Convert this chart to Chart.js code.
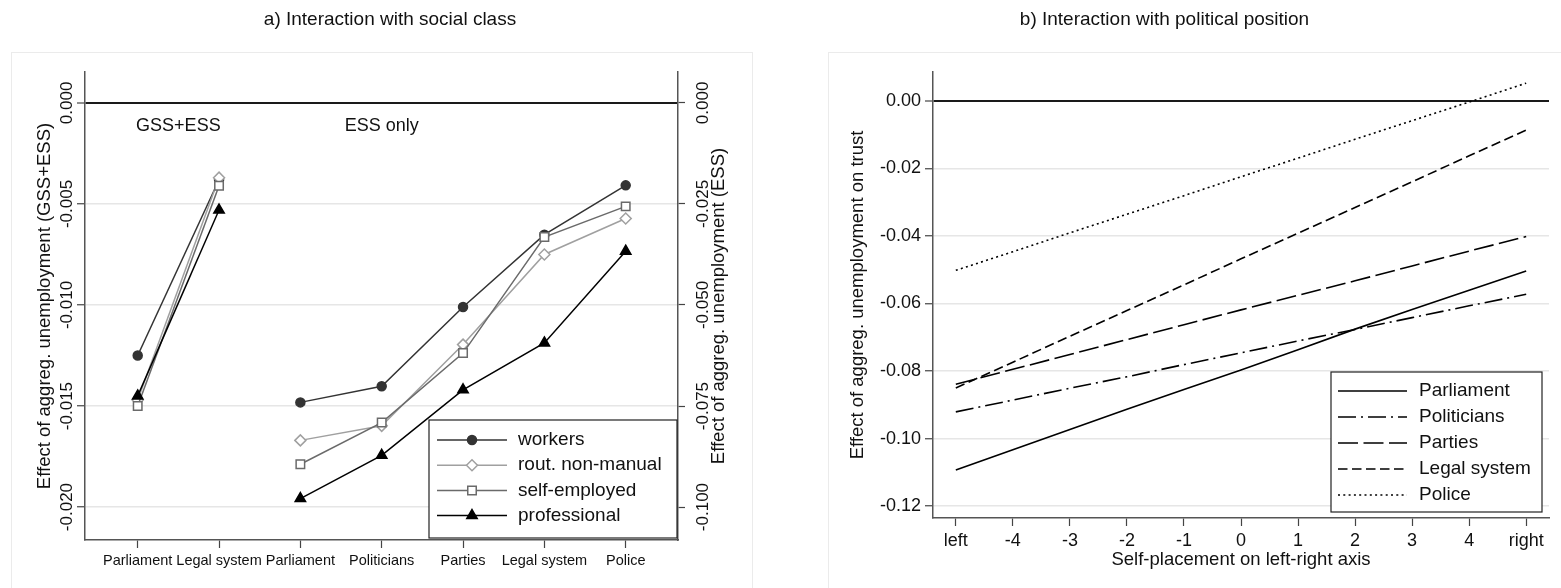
<!DOCTYPE html>
<html>
<head>
<meta charset="utf-8">
<title>Effect of aggregate unemployment on trust</title>
<script src="https://cdn.jsdelivr.net/npm/chart.js@4.4.1/dist/chart.umd.min.js"></script>
<style>
  html, body { margin: 0; padding: 0; background: #ffffff; }
  #page { position: relative; width: 1561px; height: 588px; overflow: hidden; }
  .frame { position: absolute; top: 52px; height: 600px; border: 1px solid #ebebeb; }
  #frameA { left: 11px; width: 740px; }
  #frameB { left: 828px; width: 800px; }
  canvas { position: absolute; top: 0; }
  #classChart { left: 0; }
  #positionChart { left: 780px; }
</style>
</head>
<body>
<div id="page">
  <div class="frame" id="frameA"></div>
  <div class="frame" id="frameB"></div>
  <canvas id="classChart" width="780" height="588"></canvas>
  <canvas id="positionChart" width="781" height="588"></canvas>
</div>
<script>
'use strict';

const fontFamily = "'Liberation Sans', Arial, Helvetica, sans-serif";
const ink = '#111111';

// ---- panel a: interaction with social class ----
const institutionsA = ['Parliament', 'Legal system', 'Parliament', 'Politicians', 'Parties', 'Legal system', 'Police'];
const gssPositions = [1, 2];
const essPositions = [3, 4, 5, 6, 7];
const classNames = ['workers', 'rout. non-manual', 'self-employed', 'professional'];

const gssWorkers = [-0.0125, -0.0038];
const gssRoutine = [-0.0147, -0.0037];
const gssSelfEmployed = [-0.0150, -0.0041];
const gssProfessional = [-0.0145, -0.0053];

const essWorkers = [-0.0741, -0.0701, -0.0505, -0.0326, -0.0204];
const essRoutine = [-0.0835, -0.0799, -0.0598, -0.0375, -0.0286];
const essSelfEmployed = [-0.0894, -0.0791, -0.0619, -0.0332, -0.0256];
const essProfessional = [-0.0979, -0.0872, -0.0710, -0.0594, -0.0367];

const gssTickValues = [-0.020, -0.015, -0.010, -0.005, 0];
const gssTickLabels = ['-0.020', '-0.015', '-0.010', '-0.005', '0.000'];
const essTickValues = [-0.100, -0.075, -0.050, -0.025, 0];
const essTickLabels = ['-0.100', '-0.075', '-0.050', '-0.025', '0.000'];

// ---- panel b: interaction with political position ----
const placement = [-5, -4, -3, -2, -1, 0, 1, 2, 3, 4, 5];
const placementLabels = ['left', '-4', '-3', '-2', '-1', '0', '1', '2', '3', '4', 'right'];
const institutionsB = ['Parliament', 'Politicians', 'Parties', 'Legal system', 'Police'];

const parliamentEffect = [-0.1093, -0.1033, -0.0973, -0.0913, -0.0855, -0.0797, -0.0737, -0.0676, -0.0618, -0.0561, -0.0504];
const politiciansEffect = [-0.0921, -0.0886, -0.0851, -0.0817, -0.0781, -0.0746, -0.0711, -0.0677, -0.0642, -0.0607, -0.0573];
const partiesEffect = [-0.0839, -0.0795, -0.0751, -0.0707, -0.0663, -0.0619, -0.0576, -0.0533, -0.0489, -0.0445, -0.0402];
const legalEffect = [-0.0850, -0.0774, -0.0697, -0.0621, -0.0545, -0.0468, -0.0392, -0.0316, -0.0240, -0.0163, -0.0087];
const policeEffect = [-0.0502, -0.0447, -0.0391, -0.0336, -0.0281, -0.0225, -0.0170, -0.0114, -0.0059, -0.0004, 0.0052];

const trustTickValues = [-0.12, -0.10, -0.08, -0.06, -0.04, -0.02, 0];
const trustTickLabels = ['-0.12', '-0.10', '-0.08', '-0.06', '-0.04', '-0.02', '0.00'];

// styles
const classStyles = [
    { color: '#333333', fill: '#333333', pointStyle: 'circle', radius: 4.5 },
    { color: '#a0a0a0', fill: '#ffffff', pointStyle: 'rectRot', radius: 5.5 },
    { color: '#6a6a6a', fill: '#ffffff', pointStyle: 'rect', radius: 6 },
    { color: '#000000', fill: '#000000', pointStyle: 'triangle', radius: 6 }
];
const lineDashes = [[], [18, 5, 2, 5], [20, 5.5], [9.5, 4.5], [2, 3.3]];

function pointsOf(xs, ys) {
    return xs.map((x, i) => ({ x: x, y: ys[i] }));
}

function fixedTicks(values) {
    return function (scale) {
        scale.ticks = values.map(v => ({ value: v }));
    };
}

function gridColor(ctx) {
    return ctx.tick && Math.abs(ctx.tick.value) < 1e-9 ? '#1a1a1a' : '#e6e6e6';
}
function gridWidth(ctx) {
    return ctx.tick && Math.abs(ctx.tick.value) < 1e-9 ? 2 : 1.5;
}

function drawUpText(ctx, text, x, y, size) {
    ctx.save();
    ctx.translate(x, y);
    ctx.rotate(-Math.PI / 2);
    ctx.font = size + 'px ' + fontFamily;
    ctx.fillStyle = ink;
    ctx.textAlign = 'center';
    ctx.textBaseline = 'alphabetic';
    ctx.fillText(text, 0, 0);
    ctx.restore();
}

function drawLegend(ctx, box, rows, layout) {
    ctx.save();
    ctx.fillStyle = '#ffffff';
    ctx.fillRect(box.left, box.top, box.right - box.left, box.bottom - box.top);
    ctx.strokeStyle = '#222222';
    ctx.lineWidth = 1.2;
    ctx.strokeRect(box.left, box.top, box.right - box.left, box.bottom - box.top);
    rows.forEach((row, i) => {
        const y = box.top + layout.rowTop + i * layout.rowGap;
        const x0 = box.left + layout.lineFrom;
        const x1 = box.left + layout.lineTo;
        ctx.setLineDash(row.dash || []);
        ctx.strokeStyle = row.color;
        ctx.lineWidth = row.width;
        ctx.beginPath();
        ctx.moveTo(x0, y);
        ctx.lineTo(x1, y);
        ctx.stroke();
        ctx.setLineDash([]);
        if (row.pointStyle) {
            ctx.fillStyle = row.fill;
            ctx.strokeStyle = row.color;
            ctx.lineWidth = 1.5;
            Chart.helpers.drawPoint(ctx, { pointStyle: row.pointStyle, radius: row.radius, borderWidth: 1.5, rotation: 0 }, (x0 + x1) / 2, y);
        }
        ctx.fillStyle = ink;
        ctx.font = layout.fontSize + 'px ' + fontFamily;
        ctx.textAlign = 'left';
        ctx.textBaseline = 'middle';
        ctx.fillText(row.label, box.left + layout.textX, y);
    });
    ctx.restore();
}

// ---------- chart a ----------
const gssSeries = [gssWorkers, gssRoutine, gssSelfEmployed, gssProfessional];
const essSeries = [essWorkers, essRoutine, essSelfEmployed, essProfessional];

let datasetsA = [];
classNames.forEach((name, i) => {
    const st = classStyles[i];
    const common = {
        label: name,
        borderColor: st.color,
        backgroundColor: st.fill,
        borderWidth: 1.5,
        pointStyle: st.pointStyle,
        pointRadius: st.radius,
        pointHoverRadius: st.radius,
        pointBackgroundColor: st.fill,
        pointBorderColor: st.color,
        pointBorderWidth: 1.5,
        order: classNames.length - i,
        tension: 0,
        fill: false
    };
    datasetsA.push(Object.assign({}, common, { data: pointsOf(gssPositions, gssSeries[i]), yAxisID: 'yGss' }));
    datasetsA.push(Object.assign({}, common, { data: pointsOf(essPositions, essSeries[i]), yAxisID: 'yEss' }));
});

const classTextPlugin = {
    id: 'classText',
    afterDraw(chart) {
        const ctx = chart.ctx;
        const area = chart.chartArea;
        const x = chart.scales.x;
        const yGss = chart.scales.yGss;
        const yEss = chart.scales.yEss;
        const midY = (area.top + area.bottom) / 2;

        yGss.ticks.forEach((t, i) => drawUpText(ctx, gssTickLabels[i], yGss.right - 13, yGss.getPixelForValue(t.value), 17));
        yEss.ticks.forEach((t, i) => drawUpText(ctx, essTickLabels[i], yEss.left + 30, yEss.getPixelForValue(t.value), 17));
        drawUpText(ctx, 'Effect of aggreg. unemployment (GSS+ESS)', 49.5, midY, 18.5);
        drawUpText(ctx, 'Effect of aggreg. unemployment (ESS)', yEss.left + 46, midY, 18.5);

        ctx.save();
        ctx.font = '18px ' + fontFamily;
        ctx.fillStyle = ink;
        ctx.textAlign = 'center';
        ctx.textBaseline = 'alphabetic';
        ctx.fillText('GSS+ESS', x.getPixelForValue(1.5), yGss.getPixelForValue(-0.0014));
        ctx.fillText('ESS only', x.getPixelForValue(4), yGss.getPixelForValue(-0.0014));
        ctx.restore();

        const rows = classNames.map((name, i) => ({
            label: name, color: classStyles[i].color, fill: classStyles[i].fill,
            pointStyle: classStyles[i].pointStyle, radius: classStyles[i].radius, width: 1.5
        }));
        drawLegend(ctx, { left: area.right - 249, right: area.right - 1, top: area.bottom - 120, bottom: area.bottom - 2 }, rows,
            { rowTop: 20, rowGap: 25.2, lineFrom: 8, lineTo: 78, textX: 89, fontSize: 19 });
    }
};

new Chart(document.getElementById('classChart'), {
    type: 'line',
    data: { datasets: datasetsA },
    options: {
        responsive: false,
        animation: false,
        events: [],
        layout: { padding: { left: 0, right: 0, top: 0, bottom: 0 } },
        plugins: {
            legend: { display: false },
            tooltip: { enabled: false },
            title: {
                display: true,
                text: 'a) Interaction with social class',
                color: ink,
                font: { family: fontFamily, size: 19, weight: 'normal' },
                padding: { top: 8, bottom: 41.2 }
            }
        },
        scales: {
            x: {
                type: 'linear',
                min: 0.352,
                max: 7.643,
                afterBuildTicks: fixedTicks(gssPositions.concat(essPositions)),
                afterFit: s => { s.height = 48; },
                ticks: {
                    autoSkip: false,
                    maxRotation: 0,
                    padding: 4,
                    color: ink,
                    font: { family: fontFamily, size: 14.5 },
                    callback: (v, i) => institutionsA[i]
                },
                grid: { drawOnChartArea: false, drawTicks: true, tickLength: 8, tickColor: '#444444', tickWidth: 1.2 },
                border: { display: true, color: '#555555', width: 1.5 }
            },
            yGss: {
                type: 'linear',
                position: 'left',
                min: -0.02163,
                max: 0.00153,
                afterBuildTicks: fixedTicks(gssTickValues),
                afterFit: s => { s.width = 85; },
                ticks: { display: false },
                grid: { color: gridColor, lineWidth: gridWidth, drawTicks: true, tickLength: 8, tickColor: '#444444', tickWidth: 1.2 },
                border: { display: true, color: '#555555', width: 1.5 }
            },
            yEss: {
                type: 'linear',
                position: 'right',
                min: -0.10815,
                max: 0.00765,
                afterBuildTicks: fixedTicks(essTickValues),
                afterFit: s => { s.width = 102; },
                ticks: { display: false },
                grid: { drawOnChartArea: false, drawTicks: true, tickLength: 7, tickColor: '#444444', tickWidth: 1.2 },
                border: { display: true, color: '#555555', width: 1.5 }
            }
        }
    },
    plugins: [classTextPlugin]
});

// ---------- chart b ----------
const trustSeries = [parliamentEffect, politiciansEffect, partiesEffect, legalEffect, policeEffect];

const datasetsB = institutionsB.map((name, i) => ({
    label: name,
    data: pointsOf(placement, trustSeries[i]),
    borderColor: '#000000',
    borderWidth: 1.6,
    borderDash: lineDashes[i],
    pointRadius: 0,
    tension: 0,
    fill: false
}));

const positionLegendPlugin = {
    id: 'positionLegend',
    afterDraw(chart) {
        const area = chart.chartArea;
        const rows = chart.data.datasets.map(ds => ({ label: ds.label, color: ds.borderColor, dash: ds.borderDash, width: 1.6 }));
        drawLegend(chart.ctx, { left: area.right - 218, right: area.right - 7, top: area.bottom - 146, bottom: area.bottom - 6 }, rows,
            { rowTop: 19, rowGap: 26, lineFrom: 7, lineTo: 76, textX: 88, fontSize: 19 });
    }
};

new Chart(document.getElementById('positionChart'), {
    type: 'line',
    data: { datasets: datasetsB },
    options: {
        responsive: false,
        animation: false,
        events: [],
        layout: { padding: { left: 0, right: 12, top: 0, bottom: 0 } },
        plugins: {
            legend: { display: false },
            tooltip: { enabled: false },
            title: {
                display: true,
                text: 'b) Interaction with political position',
                color: ink,
                font: { family: fontFamily, size: 19, weight: 'normal' },
                padding: { top: 8, bottom: 41.2 }
            }
        },
        scales: {
            x: {
                type: 'linear',
                min: -5.4,
                max: 5.4,
                afterBuildTicks: fixedTicks(placement),
                afterFit: s => { s.height = 70; },
                ticks: {
                    autoSkip: false,
                    maxRotation: 0,
                    padding: 4,
                    color: ink,
                    font: { family: fontFamily, size: 18 },
                    callback: (v, i) => placementLabels[i]
                },
                title: {
                    display: true,
                    text: 'Self-placement on left-right axis',
                    color: ink,
                    font: { family: fontFamily, size: 18.5 },
                    padding: { top: 0, bottom: 17 }
                },
                grid: { drawOnChartArea: false, drawTicks: true, tickLength: 8, tickColor: '#444444', tickWidth: 1.2 },
                border: { display: true, color: '#555555', width: 1.5 }
            },
            y: {
                type: 'linear',
                position: 'left',
                min: -0.1235,
                max: 0.0085,
                afterBuildTicks: fixedTicks(trustTickValues),
                afterFit: s => { s.width = 153; },
                ticks: {
                    padding: 4,
                    color: ink,
                    font: { family: fontFamily, size: 18 },
                    callback: (v, i) => trustTickLabels[i]
                },
                title: {
                    display: true,
                    text: 'Effect of aggreg. unemployment on trust',
                    color: ink,
                    font: { family: fontFamily, size: 18.5 },
                    padding: { top: 67, bottom: 0 }
                },
                grid: { color: gridColor, lineWidth: gridWidth, drawTicks: true, tickLength: 8, tickColor: '#444444', tickWidth: 1.2 },
                border: { display: true, color: '#555555', width: 1.5 }
            }
        }
    },
    plugins: [positionLegendPlugin]
});
</script>
</body>
</html>
